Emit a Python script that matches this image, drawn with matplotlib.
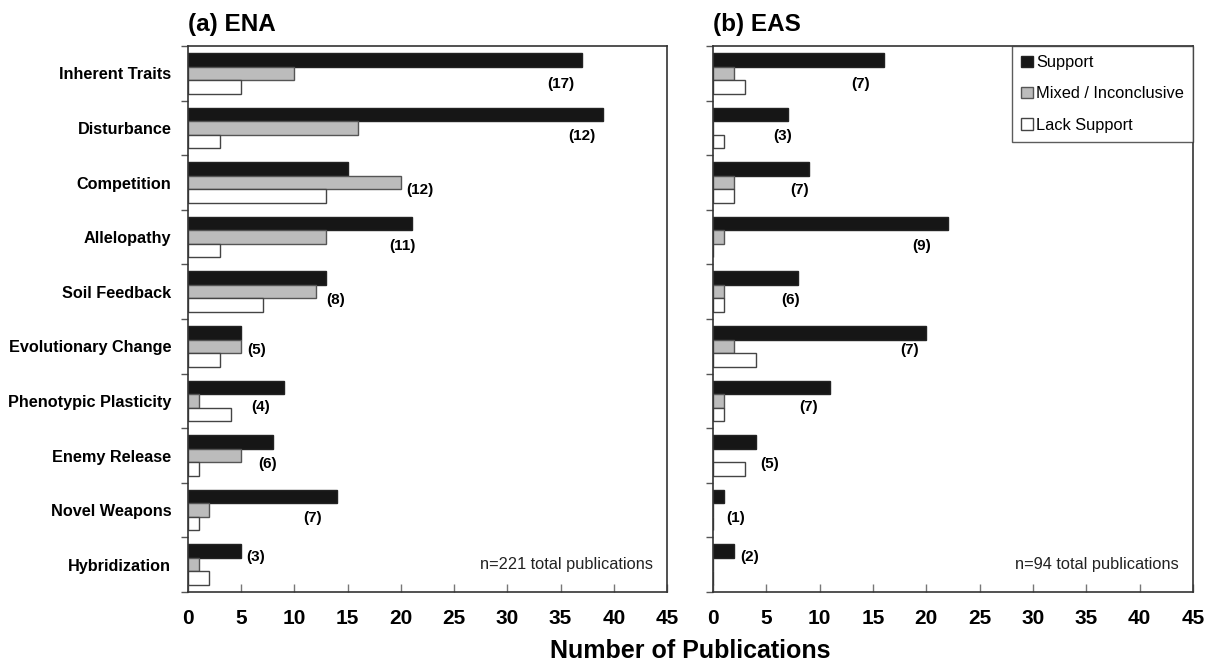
import numpy as np
import matplotlib
matplotlib.use("Agg")
import matplotlib.pyplot as plt
from matplotlib.patches import Patch

plt.rcParams['font.family'] = ['Liberation Sans', 'DejaVu Sans']

categories = ["Inherent Traits", "Disturbance", "Competition", "Allelopathy",
              "Soil Feedback", "Evolutionary Change", "Phenotypic Plasticity",
              "Enemy Release", "Novel Weapons", "Hybridization"]
series = ["Support", "Mixed / Inconclusive", "Lack Support"]

# ENA panel
ena_support = [37, 39, 15, 21, 13, 5, 9, 8, 14, 5]
ena_mixed = [10, 16, 20, 13, 12, 5, 1, 5, 2, 1]
ena_lack = [5, 3, 13, 3, 7, 3, 4, 1, 1, 2]
ena_counts = [17, 12, 12, 11, 8, 5, 4, 6, 7, 3]

# EAS panel
eas_support = [16, 7, 9, 22, 8, 20, 11, 4, 1, 2]
eas_mixed = [2, 0, 2, 1, 1, 2, 1, 0, 0, 0]
eas_lack = [3, 1, 2, 0, 1, 4, 1, 3, 0, 0]
eas_counts = [7, 3, 7, 9, 6, 7, 7, 5, 1, 2]

# where the count labels sit (data units)
ena_lab_x = [35.0, 37.0, 21.8, 20.1, 13.9, 6.45, 6.8, 7.45, 11.7, 6.35]
eas_lab_x = [13.8, 6.5, 8.1, 19.6, 7.3, 18.4, 9.0, 5.3, 2.1, 3.4]
lab_dy = [0.2, 0.15, 0.14, 0.16, 0.15, 0.07, 0.12, 0.15, 0.14, -0.15]

colors = ["#161616", "#bcbcbc", "#ffffff"]
edges = ["#222222", "#555555", "#444444"]
h = 0.247

fig = plt.figure(figsize=(12.17, 6.64), dpi=100)
ax1 = fig.add_axes([0.1545, 0.1084, 0.3936, 0.8223])
ax2 = fig.add_axes([0.5859, 0.1084, 0.3944, 0.8223])

y = np.arange(len(categories))
panels = [(ax1, [ena_support, ena_mixed, ena_lack], ena_counts, ena_lab_x,
           "(a) ENA", "n=221 total publications"),
          (ax2, [eas_support, eas_mixed, eas_lack], eas_counts, eas_lab_x,
           "(b) EAS", "n=94 total publications")]

for ax, vals, counts, lab_x, title, ntext in panels:
    for k, v in enumerate(vals):
        ax.barh(y + (k - 1) * h, v, height=h, color=colors[k],
                edgecolor=edges[k], linewidth=1.0)
    for i, c in enumerate(counts):
        ax.text(lab_x[i], y[i] + lab_dy[i], f"({c})", ha='center', va='center',
                fontsize=11, fontweight='bold')
    ax.set_xlim(0, 45)
    ax.set_ylim(len(categories) - 0.5, -0.5)
    ax.set_xticks(np.arange(0, 46, 5))
    ax.tick_params(axis='x', direction='in', length=6, width=1, color='#777777',
                   labelsize=15, pad=12)
    for lbl in ax.get_xticklabels():
        lbl.set_fontweight('bold')
    ax.set_yticks(np.arange(-0.5, len(categories), 1.0))
    ax.set_yticklabels([])
    ax.tick_params(axis='y', direction='out', length=5, width=1, color='#555555')
    for sp in ax.spines.values():
        sp.set_linewidth(1.2)
        sp.set_color('#333333')
    ax.text(0, 1.018, title, transform=ax.transAxes, fontsize=17.5,
            fontweight='bold', ha='left', va='bottom')
    ax.text(0.97, 0.05, ntext, transform=ax.transAxes, fontsize=11.8,
            ha='right', va='center', color='#222222')

ax1.set_yticks(y, minor=True)
ax1.set_yticklabels(categories, minor=True, fontsize=11.7, fontweight='bold')
ax1.tick_params(axis='y', which='minor', length=0, pad=12)

handles = [Patch(facecolor=colors[k], edgecolor=edges[k], label=series[k])
           for k in range(3)]
leg = ax2.legend(handles=handles, loc='upper right', fontsize=11.8,
                 frameon=True, fancybox=False, borderaxespad=0,
                 handlelength=0.7, handleheight=0.7, handletextpad=0.2,
                 labelspacing=1.0, borderpad=0.55)
leg.get_frame().set_edgecolor('#333333')
leg.get_frame().set_linewidth(1.0)

fig.text(0.567, 0.02, "Number of Publications", ha='center', va='center',
         fontsize=18, fontweight='bold')

fig.savefig("out.png", dpi=100)
